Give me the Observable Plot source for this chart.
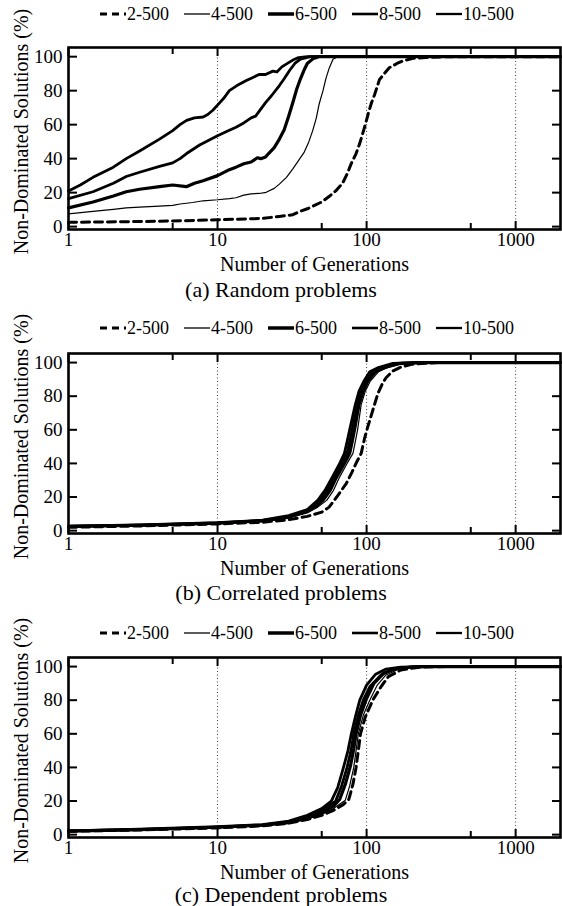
<!DOCTYPE html>
<html><head><meta charset="utf-8">
<script src="https://cdn.jsdelivr.net/npm/d3@7"></script>
<script src="https://cdn.jsdelivr.net/npm/@observablehq/plot@0.6"></script>
<style>
body{margin:0;background:#fff;}
#wrap{position:relative;width:562px;height:906px;overflow:hidden;font-family:"Liberation Serif","Times New Roman",serif;color:#000;background:#fff;}
.legend{position:absolute;left:100px;height:20px;display:flex;align-items:center;font-size:18px;line-height:20px;}
.legend .item{display:flex;align-items:center;margin-right:15px;}
.legend svg{display:block;margin-right:1px;}
.caption{position:absolute;left:0;width:562px;text-align:center;font-size:22px;line-height:24px;}
.panel{position:absolute;left:0;}
svg.panel text{font-family:"Liberation Serif","Times New Roman",serif;}
</style></head><body><div id="wrap"></div>
<script>
// ---------- data ----------
const seriesNames = ["2-500", "4-500", "6-500", "8-500", "10-500"];
const xTickValues = [1, 10, 100, 1000];
const xMinorTicks = [5, 50, 500];
const yTickValues = [0, 20, 40, 60, 80, 100];
const captions = ["(a) Random problems", "(b) Correlated problems", "(c) Dependent problems"];
const xLabel = "Number of Generations";
const yLabel = "Non-Dominated Solutions (%)";

// [generations, % non-dominated]
const random2 = [[1,2.5],[3,3],[5,3.3],[10,4],[20,4.8],[26,6],[32,7],[35.5,8.9],[40,10.5],[43.5,12],[50,14.5],[56,17.7],[62,21],[69,25.5],[74,31],[79,37.2],[85,43],[90,49],[97,58.6],[104,68.3],[108,73],[113,77.5],[122,86.5],[130,89.5],[142,93.5],[160,96],[175,97.5],[205,99],[250,99.5],[350,100],[2000,100]];
const random4 = [[1,7.5],[1.46,9],[2,10.2],[2.44,11],[3,11.5],[4.08,12],[5,12.5],[5.6,13.3],[6.8,14.2],[8,15.2],[10,15.8],[12,16.5],[13.3,17],[15,18.5],[16.8,19.3],[19,19.5],[21.2,20.2],[24,22.5],[26,25],[29,29],[32,34],[35,39],[38,43.5],[41,50],[43.5,56.5],[46,64],[48,72],[51,80],[53.5,87.5],[56,93],[59.5,98.5],[64,100],[2000,100]];
const random6 = [[1,11],[1.46,14.5],[2,18],[2.44,20.5],[3,22],[4.08,23.5],[5,24.5],[6.17,23.5],[7,25.5],[8,27],[10,30],[12,33.5],[13.3,35],[15,37],[16.8,38],[18.5,40.5],[19.5,40],[21,41],[22,43],[24,46.5],[26,51.5],[28,57],[30,65],[32,73],[34,81],[36,87],[38,92],[40,96],[44,99],[48,100],[2000,100]];
const random8 = [[1,16.5],[1.46,20.5],[2,25.5],[2.44,29.5],[3,32],[4.08,35.5],[5,37.5],[5.6,40],[6.2,43],[7.58,48],[10,53.5],[11.5,56],[13.3,58.5],[15,61],[16.8,64],[18,65],[21,73],[23,77],[26,83],[28,87],[30.5,92],[33,96],[36,98.5],[42,100],[2000,100]];
const random10 = [[1,21],[1.2,24.5],[1.46,29],[2,35],[2.44,40],[3,44.5],[4.08,51.5],[5,56.5],[5.6,60],[6.2,62.5],[7,64],[8,64.5],[8.6,66],[9.3,68.5],[10,71.5],[11,75.5],[12,80],[13.5,83],[15.6,86],[17,87.5],[19,89.5],[21,89.5],[23.5,91.5],[25,91],[27,94],[30,96.5],[32,98],[35,99.5],[40,100],[2000,100]];

const correlated2 = [[1,2],[3,2.8],[10,4],[20,5],[30,6.5],[40,8.5],[50,11],[56,14],[63,20],[73,28],[80,35],[86,41],[92,46],[97,55],[102,62],[107,68],[113,75],[119,81.5],[127,87],[135,91],[150,95],[167,97],[200,99],[300,100],[2000,100]];
const correlated4 = [[1,2.3],[3,3],[10,4.3],[20,5.6],[30,7.5],[40,10.5],[47,14],[54,18],[60,24],[66,32],[74,40],[81,46],[84,53],[87,60],[92,75],[98,83],[106,89],[120,94.5],[138,97],[170,99.3],[240,100],[2000,100]];
const correlated6 = [[1,2.5],[3,3.2],[10,4.5],[20,5.8],[30,8],[40,11.5],[46,14.5],[51,18],[57,24],[63,32],[71,40],[77,46],[80,53],[83,60],[89,75],[95,83],[102,89],[115,94.5],[130,97],[165,99.4],[230,100],[2000,100]];
const correlated8 = [[1,2.5],[3,3.2],[10,4.5],[20,6],[30,8.5],[40,12],[45,15],[49,18],[55,24.5],[61,32],[68,40],[74,46],[77,53],[80,60],[87,75],[92,83],[100,89],[110,94.5],[125,97],[160,99.5],[220,100],[2000,100]];
const correlated10 = [[1,2.7],[3,3.4],[10,4.7],[20,6.2],[30,9],[40,12.5],[47,18],[53,24.5],[59,32],[66,40],[71,46],[74,53],[77,60],[84,75],[89,83],[96,89],[105,94.5],[120,97],[150,99.5],[210,100],[2000,100]];

const dependent2 = [[1,2],[3,2.8],[10,4],[20,5.2],[30,6.8],[40,9],[50,11.5],[60,14.5],[70,18],[76,21],[81,30],[85,40],[88,50],[91,60],[98,70],[110,80],[125,88],[140,94],[170,98],[230,99.7],[350,100],[2000,100]];
const dependent4 = [[1,2],[3,2.9],[10,4.2],[20,5.4],[30,7],[40,9.3],[50,12],[60,15.5],[72,20.5],[77,29],[82,40],[85,50],[88,60],[95,71],[105,80],[118,89],[135,95],[170,99],[250,100],[2000,100]];
const dependent6 = [[1,2.1],[3,3],[10,4.4],[20,5.6],[30,7.2],[40,9.8],[50,13],[60,17],[66,21],[72,30],[78,41],[82,51],[85,60],[91,71],[100,81],[112,90],[130,96],[160,99],[220,100],[2000,100]];
const dependent8 = [[1,2.2],[3,3],[10,4.5],[20,5.8],[30,7.6],[40,10.5],[50,14],[62,20],[68,29],[74,40],[79,51],[82,60],[88,71],[95,80],[105,88],[125,95],[150,98.5],[200,99.8],[300,100],[2000,100]];
const dependent10 = [[1,2.3],[3,3.2],[10,4.7],[20,6],[30,8],[40,11.5],[50,15.5],[58,20],[64,28],[70,40],[75,50],[79,60],[84,70],[90,80],[100,89],[115,95.5],[135,98.5],[170,99.7],[250,100],[2000,100]];

// ---------- styles ----------
const lineStyles = [
  {w: 3, dash: "8,5", lw: 3, ldash: "7,5"},
  {w: 1.2, dash: null, lw: 1.3, ldash: null},
  {w: 3.2, dash: null, lw: 3.5, ldash: null},
  {w: 2.8, dash: null, lw: 2.6, ldash: null},
  {w: 2.8, dash: null, lw: 2.3, ldash: null}
];

const panels = [
  {series: [random2, random4, random6, random8, random10], legendY: 4, frameTop: 47, plotH: 182, captionY: 278},
  {series: [correlated2, correlated4, correlated6, correlated8, correlated10], legendY: 318, frameTop: 353, plotH: 180, captionY: 581},
  {series: [dependent2, dependent4, dependent6, dependent8, dependent10], legendY: 623, frameTop: 657, plotH: 180, captionY: 883}
];

const wrap = document.getElementById("wrap");
const W = 562, mL = 68, mR = 2, mT = 10, mB = 50;
const font = "Liberation Serif, Times New Roman, serif";

function legend(top) {
  const div = document.createElement("div");
  div.className = "legend";
  div.style.top = top + "px";
  seriesNames.forEach((name, i) => {
    const st = lineStyles[i];
    const item = document.createElement("div");
    item.className = "item";
    const ns = "http://www.w3.org/2000/svg";
    const s = document.createElementNS(ns, "svg");
    s.setAttribute("width", 26); s.setAttribute("height", 10);
    const l = document.createElementNS(ns, "line");
    l.setAttribute("x1", 0); l.setAttribute("x2", 26); l.setAttribute("y1", 5); l.setAttribute("y2", 5);
    l.setAttribute("stroke", "#000"); l.setAttribute("stroke-width", st.lw);
    if (st.ldash) l.setAttribute("stroke-dasharray", st.ldash);
    s.appendChild(l);
    const t = document.createElement("span");
    t.textContent = name;
    item.appendChild(s); item.appendChild(t);
    div.appendChild(item);
  });
  wrap.appendChild(div);
}

panels.forEach((p, pi) => {
  legend(p.legendY);
  const plot = Plot.plot({
    width: W, height: mT + p.plotH + mB,
    marginLeft: mL, marginRight: mR, marginTop: mT, marginBottom: mB,
    style: {fontFamily: font, fontSize: "19px", background: "transparent", overflow: "visible", color: "#000"},
    x: {type: "log", domain: [1, 2000]},
    y: {domain: [-1.7, 105.4]},
    marks: [
      Plot.gridX(xTickValues.slice(1), {stroke: "#000", strokeOpacity: 0.85, strokeWidth: 0.9, strokeDasharray: "1,2.5"}),
      ...p.series.map((s, i) => Plot.line(s, {
        x: d => d[0], y: d => d[1], stroke: "#000",
        strokeWidth: lineStyles[i].w, strokeDasharray: lineStyles[i].dash, strokeLinejoin: "round"
      })),
      // inward ticks
      Plot.axisX(xTickValues, {anchor: "bottom", tickSize: -8, fill: "none", strokeWidth: 2, label: null}),
      Plot.axisX(xTickValues, {anchor: "top", tickSize: -8, fill: "none", strokeWidth: 2, label: null}),
      Plot.axisX(xMinorTicks, {anchor: "bottom", tickSize: -6, fill: "none", strokeWidth: 2, label: null}),
      Plot.axisX(xMinorTicks, {anchor: "top", tickSize: -6, fill: "none", strokeWidth: 2, label: null}),
      Plot.axisY(yTickValues, {anchor: "left", tickSize: -9, fill: "none", strokeWidth: 2, label: null}),
      Plot.axisY(yTickValues, {anchor: "right", tickSize: -9, fill: "none", strokeWidth: 2, label: null}),
      // tick labels
      Plot.axisX(xTickValues, {anchor: "bottom", tickSize: 0, tickPadding: 3, tickFormat: d => String(d), label: null, fontSize: 19, fontFamily: font}),
      Plot.axisY(yTickValues, {anchor: "left", tickSize: 0, tickPadding: 6, tickFormat: d => String(d), label: null, fontSize: 19, fontFamily: font}),
      Plot.frame({stroke: "#000", strokeWidth: 2.6}),
      Plot.text([xLabel], {text: d => d, frameAnchor: "bottom", textAnchor: "middle", lineAnchor: "middle", dy: 35, fontSize: 20, fontFamily: font}),
      Plot.text([yLabel], {text: d => d, frameAnchor: "left", textAnchor: "middle", lineAnchor: "middle", rotate: -90, dx: -47, dy: -7, fontSize: 20, fontFamily: font})
    ]
  });
  plot.classList.add("panel");
  plot.style.position = "absolute";
  plot.style.top = (p.frameTop - mT) + "px";
  plot.style.left = "0px";
  wrap.appendChild(plot);
  const cap = document.createElement("div");
  cap.className = "caption";
  cap.style.top = p.captionY + "px";
  cap.textContent = captions[pi];
  wrap.appendChild(cap);
});
</script></body></html>
